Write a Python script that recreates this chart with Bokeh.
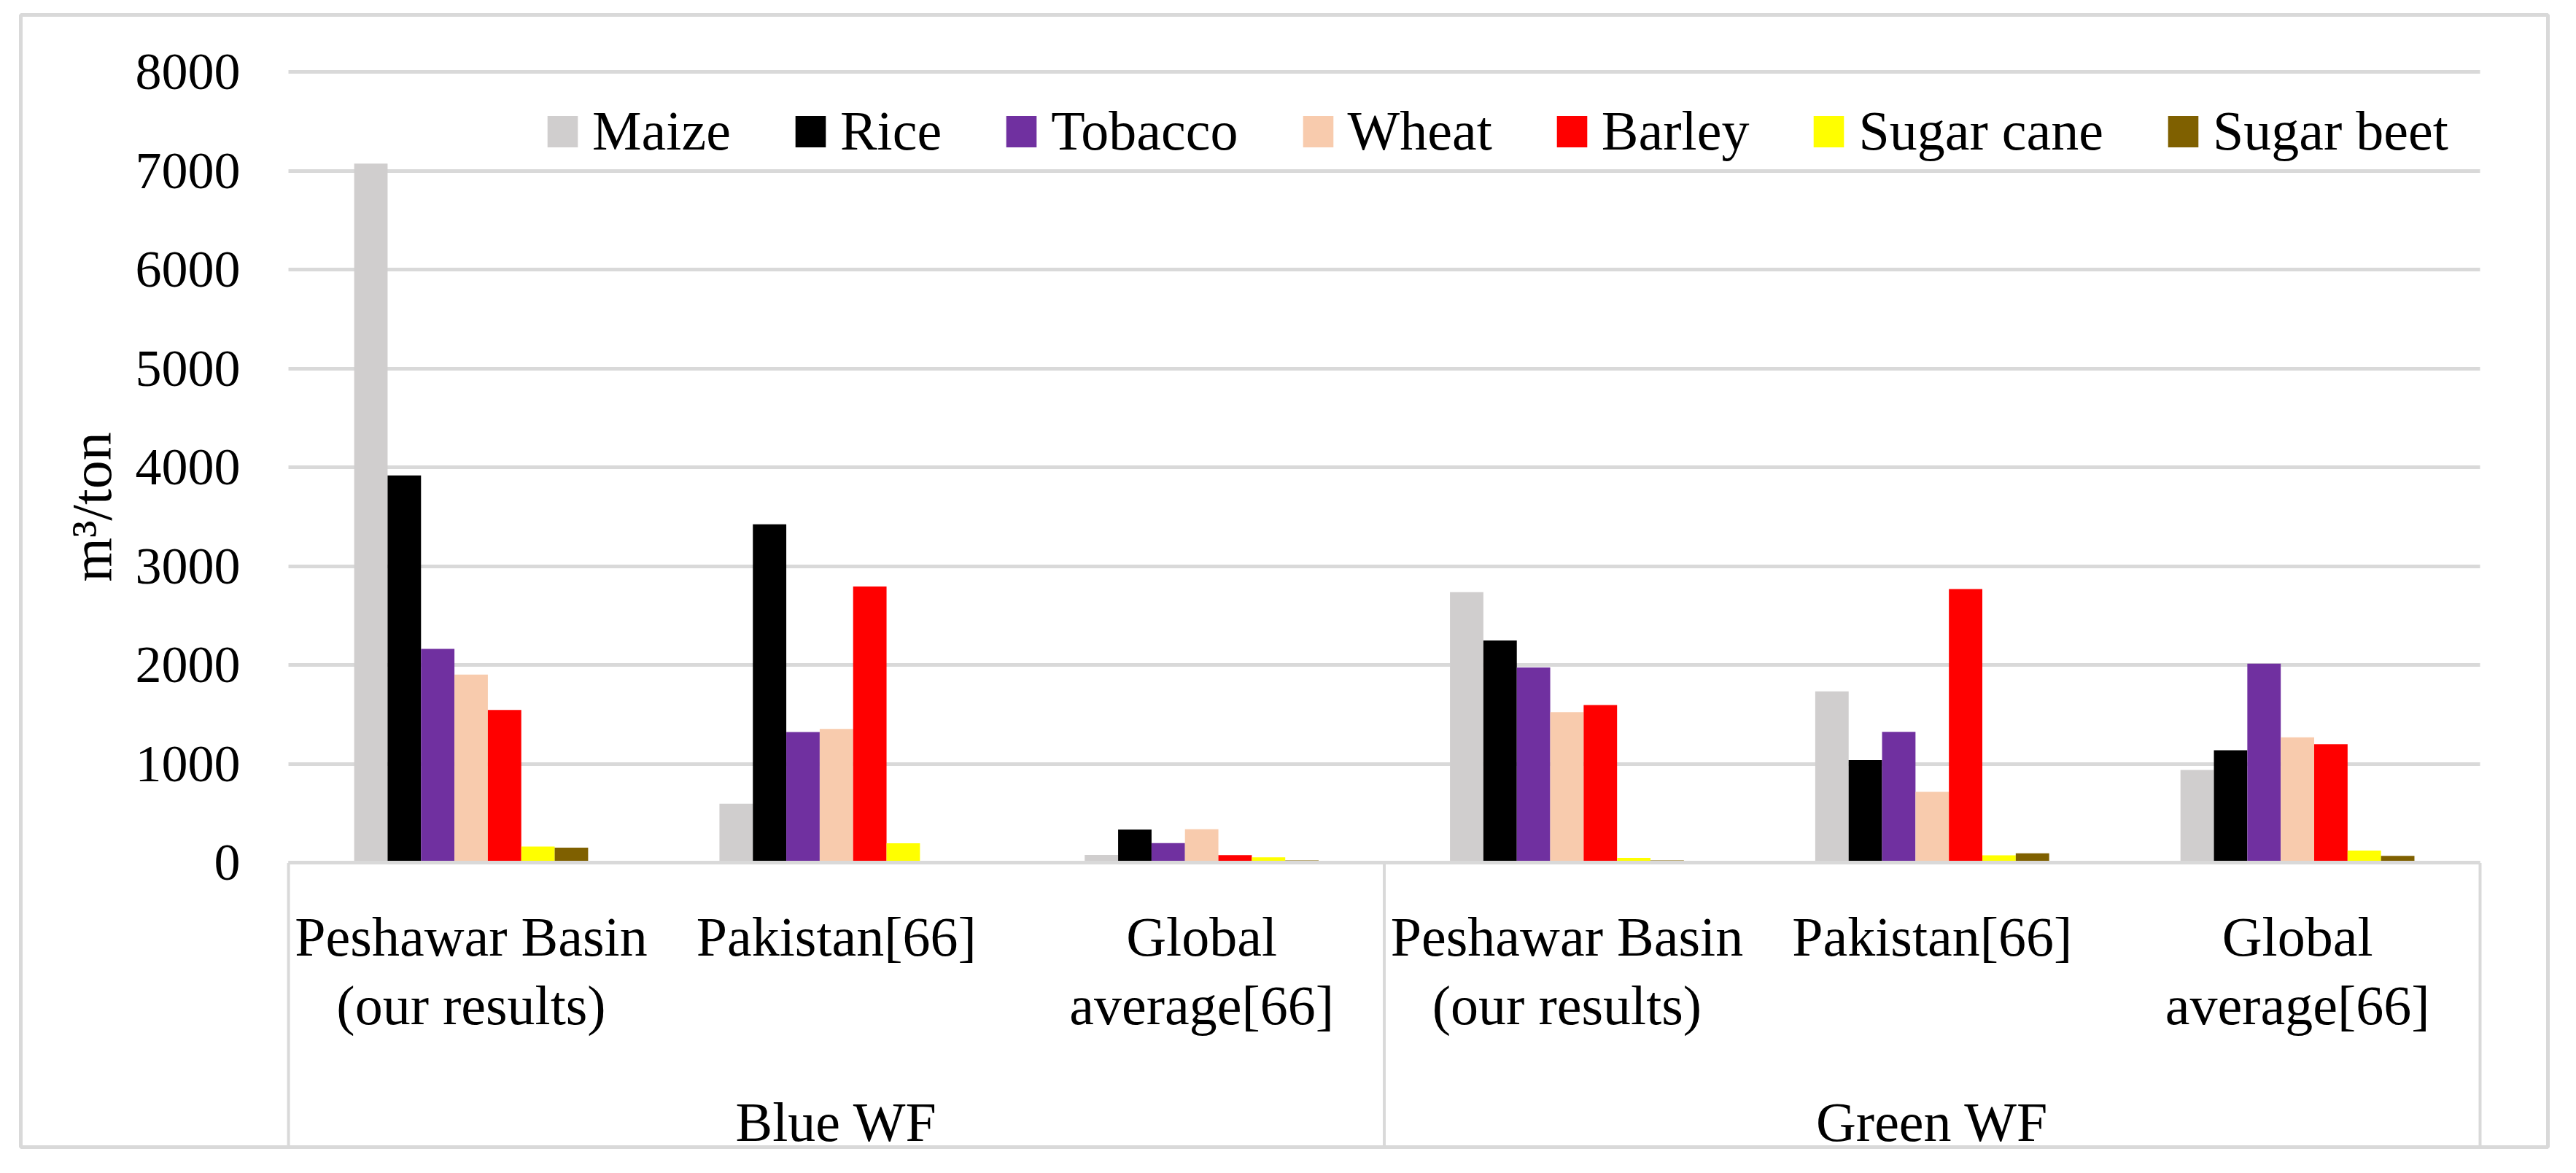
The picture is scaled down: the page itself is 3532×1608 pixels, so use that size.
import numpy as np
from bokeh.plotting import figure
from bokeh.models import (Range1d, FixedTicker, LinearAxis, Legend, LegendItem, Grid,
                          ColumnDataSource)
from bokeh.embed import file_html
from bokeh.resources import INLINE

# ---------------- data ----------------
categories = ["Peshawar Basin\n(our results)", "Pakistan[66]", "Global\naverage[66]",
              "Peshawar Basin\n(our results)", "Pakistan[66]", "Global\naverage[66]"]
groups = ["Blue WF", "Green WF"]
crops = ["Maize", "Rice", "Tobacco", "Wheat", "Barley", "Sugar cane", "Sugar beet"]
colors = ["#d0cece", "#000000", "#7030a0", "#f8cbad", "#ff0000", "#ffff00", "#7f6000"]

maize = [7075, 600, 80, 2740, 1736, 940]
rice = [3920, 3425, 337, 2250, 1040, 1140]
tobacco = [2165, 1325, 201, 1977, 1327, 2017]
wheat = [1905, 1355, 340, 1526, 719, 1270]
barley = [1547, 2796, 79, 1597, 2770, 1200]
sugar_cane = [165, 198, 57, 51, 77, 125]
sugar_beet = [155, 0, 26, 26, 97, 72]
series = [maize, rice, tobacco, wheat, barley, sugar_cane, sugar_beet]

y_ticks = [0, 1000, 2000, 3000, 4000, 5000, 6000, 7000, 8000]
y_label = "m\u00b3/ton"

FONT = "Liberation Serif"
GRID = "#d9d9d9"

# ---------------- figure ----------------
y_bottom = -2875
p = figure(width=3514, height=1590,
           x_range=Range1d(-0.733, 6.1857), y_range=Range1d(y_bottom, 8579),
           output_backend="svg", toolbar_location=None,
           x_axis_type=None, y_axis_type=None,
           min_border_left=28, min_border_right=21, min_border_top=20, min_border_bottom=18)
if p.title is not None:
    p.title.visible = False
p.outline_line_color = GRID
p.outline_line_width = 5
p.background_fill_color = "white"
p.border_fill_color = "white"

n_cat = len(categories)

# horizontal grid lines limited to the category span
grid = Grid(dimension=1, ticker=FixedTicker(ticks=y_ticks),
            grid_line_color=GRID, grid_line_width=5)
try:
    grid.cross_bounds = (0, n_cat)
    p.add_layout(grid)
except AttributeError:
    p.segment(x0=[0] * len(y_ticks), x1=[n_cat] * len(y_ticks),
              y0=y_ticks, y1=y_ticks, line_color=GRID, line_width=5)

# separators of the category table below the axis
seps = [0, n_cat // 2, n_cat]
p.segment(x0=seps, x1=seps, y0=[0] * len(seps), y1=[y_bottom] * len(seps),
          line_color=GRID, line_width=4)

# bars
n = len(crops)
bar_w = 0.0915
idx = np.arange(n_cat)
items = []
for k, (name, vals, col) in enumerate(zip(crops, series, colors)):
    src = ColumnDataSource(dict(x=idx + 0.5 + (k - (n - 1) / 2) * bar_w, top=vals))
    r = p.vbar(x="x", top="top", bottom=0, width=bar_w, source=src,
               fill_color=col, line_color=None)
    items.append(LegendItem(label=name, renderers=[r]))

# y axis
yax = LinearAxis(fixed_location=0, ticker=FixedTicker(ticks=y_ticks), bounds=(-800, 8000),
                 axis_label=y_label, axis_label_text_font=FONT,
                 axis_label_text_font_size="78px", axis_label_text_font_style="normal",
                 axis_label_text_color="black", axis_label_standoff=14,
                 major_label_text_font=FONT, major_label_text_font_size="72px",
                 major_label_text_color="black", major_label_standoff=66,
                 major_tick_out=0, major_tick_in=0, minor_tick_out=0, minor_tick_in=0,
                 axis_line_color=None)
p.add_layout(yax, "left")

# category axis
cat_ticks = [i + 0.5 for i in range(n_cat)]
xax = LinearAxis(fixed_location=0, bounds=(0, n_cat),
                 ticker=FixedTicker(ticks=cat_ticks),
                 major_label_overrides={t: c for t, c in zip(cat_ticks, categories)},
                 major_tick_out=0, major_tick_in=0, minor_tick_out=0, minor_tick_in=0,
                 axis_line_color=GRID, axis_line_width=5,
                 major_label_standoff=59, major_label_text_font=FONT,
                 major_label_text_font_size="76px", major_label_text_color="black",
                 major_label_text_line_height=1.12)
p.add_layout(xax, "below")

grp_ticks = [n_cat / 4, 3 * n_cat / 4]
gax = LinearAxis(fixed_location=0, bounds=(0, n_cat),
                 ticker=FixedTicker(ticks=grp_ticks),
                 major_label_overrides={t: g for t, g in zip(grp_ticks, groups)},
                 major_tick_out=0, major_tick_in=0, minor_tick_out=0, minor_tick_in=0,
                 axis_line_color=None,
                 major_label_standoff=313, major_label_text_font=FONT,
                 major_label_text_font_size="76px", major_label_text_color="black")
p.add_layout(gax, "below")

# legend
legend = Legend(items=items, orientation="horizontal", location=(717, 1349),
                glyph_width=52, glyph_height=54, label_standoff=15, spacing=83,
                padding=0, margin=0, label_text_font=FONT, label_text_font_size="76px",
                label_text_color="black", background_fill_alpha=0, border_line_color=None)
p.add_layout(legend)

open("out.html", "w").write(file_html(p, INLINE))
